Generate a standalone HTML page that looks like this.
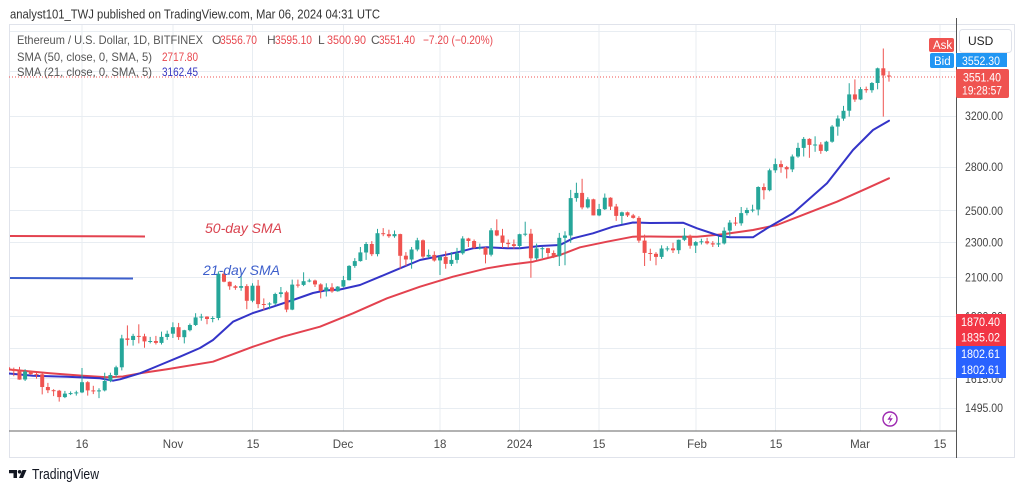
<!DOCTYPE html>
<html>
<head>
<meta charset="utf-8">
<style>
html,body{margin:0;padding:0;background:#fff;}
svg{display:block;font-family:"Liberation Sans",Arial,sans-serif;}
</style>
</head>
<body>
<svg width="1024" height="491" viewBox="0 0 1024 491">
<rect x="0" y="0" width="1024" height="491" fill="#fff"/>
<defs><clipPath id="cp"><rect x="9" y="24" width="947" height="407"/></clipPath></defs>

<!-- header -->
<text x="10" y="18.5" font-size="13" fill="#333" textLength="370" lengthAdjust="spacingAndGlyphs">analyst101_TWJ published on TradingView.com, Mar 06, 2024 04:31 UTC</text>

<!-- grid -->
<g stroke="#e8edf2" stroke-width="1">
<line x1="9" x2="956" y1="31.5" y2="31.5"/>
<line x1="9" x2="956" y1="71.5" y2="71.5"/>
<line x1="9" x2="956" y1="116.5" y2="116.5"/>
<line x1="9" x2="956" y1="167.5" y2="167.5"/>
<line x1="9" x2="956" y1="210.5" y2="210.5"/>
<line x1="9" x2="956" y1="242.5" y2="242.5"/>
<line x1="9" x2="956" y1="277.5" y2="277.5"/>
<line x1="9" x2="956" y1="316.5" y2="316.5"/>
<line x1="9" x2="956" y1="348.5" y2="348.5"/>
<line x1="9" x2="956" y1="378.5" y2="378.5"/>
<line x1="9" x2="956" y1="408.5" y2="408.5"/>
<line x1="82" x2="82" y1="24" y2="431"/>
<line x1="173" x2="173" y1="24" y2="431"/>
<line x1="252.5" x2="252.5" y1="24" y2="431"/>
<line x1="343.5" x2="343.5" y1="24" y2="431"/>
<line x1="440" x2="440" y1="24" y2="431"/>
<line x1="519.5" x2="519.5" y1="24" y2="431"/>
<line x1="599" x2="599" y1="24" y2="431"/>
<line x1="696" x2="696" y1="24" y2="431"/>
<line x1="775.5" x2="775.5" y1="24" y2="431"/>
<line x1="860.5" x2="860.5" y1="24" y2="431"/>
<line x1="940" x2="940" y1="24" y2="431"/>
</g>

<!-- frame -->
<g stroke="#e0e3eb" stroke-width="1" fill="none">
<rect x="9.5" y="24.5" width="1005" height="433"/>
</g>
<line x1="956.5" x2="956.5" y1="18" y2="458" stroke="#555" stroke-width="1"/>
<line x1="9" x2="956" y1="431" y2="431" stroke="#666" stroke-width="1"/>

<!-- legend -->
<g font-size="12" fill="#555">
<text x="17" y="44" textLength="186" lengthAdjust="spacingAndGlyphs">Ethereum / U.S. Dollar, 1D, BITFINEX</text>
<text x="212" y="44">O</text>
<text x="220" y="44" fill="#e8484f" textLength="37" lengthAdjust="spacingAndGlyphs">3556.70</text>
<text x="267" y="44">H</text>
<text x="275" y="44" fill="#e8484f" textLength="37" lengthAdjust="spacingAndGlyphs">3595.10</text>
<text x="318" y="44">L</text>
<text x="327" y="44" fill="#e8484f" textLength="39" lengthAdjust="spacingAndGlyphs">3500.90</text>
<text x="371" y="44">C</text>
<text x="379" y="44" fill="#e8484f" textLength="36" lengthAdjust="spacingAndGlyphs">3551.40</text>
<text x="423" y="44" fill="#e8484f" textLength="70" lengthAdjust="spacingAndGlyphs">−7.20 (−0.20%)</text>
<text x="17" y="61" textLength="135" lengthAdjust="spacingAndGlyphs">SMA (50, close, 0, SMA, 5)</text>
<text x="162" y="61" fill="#e8484f" textLength="36" lengthAdjust="spacingAndGlyphs">2717.80</text>
<text x="17" y="76" textLength="135" lengthAdjust="spacingAndGlyphs">SMA (21, close, 0, SMA, 5)</text>
<text x="162" y="76" fill="#3535c0" textLength="36" lengthAdjust="spacingAndGlyphs">3162.45</text>
</g>

<!-- price line -->
<line x1="9" x2="956" y1="77" y2="77" stroke="#ef5350" stroke-width="1" stroke-dasharray="1,2"/>

<!-- SMA lines -->
<g clip-path="url(#cp)" fill="none" stroke-width="2" stroke-linejoin="round" stroke-linecap="round">
<polyline stroke="#e3424f" points="9,369.5 50,373.3 83,375.7 107,377.3 123,376.5 140,373.3 167,369.3 213,361.7 253,346.7 283,336.7 320,326.7 353,313.3 387,298.3 420,286.7 453,276.7 487,268.3 507,265 533,261.7 560,255 580,247.3 607,241.7 633,236.7 650,236.5 670,236.7 697,236.7 723,234.3 753,230 777,225 807,213.3 837,201.7 867,188.3 889,178.3"/>
<polyline stroke="#3434c8" points="9,373.5 33,375.7 67,376.7 100,378.3 113,380.7 120,379.3 140,373.3 160,365 180,356.7 200,348 213,340 233,321.7 253,313 273,306.7 293,300 313,293 325,290.5 340,289.5 360,285 380,276.7 400,268.3 420,260 440,256 460,251.7 473,248.3 487,247.3 507,248.3 520,248.3 540,246 560,245 573,238.3 593,233.3 613,226.7 633,222.5 650,223 683,222.7 697,228.3 720,236 730,237.3 753,237.3 767,228.3 793,213.3 827,183.3 853,150 873,130 889,120.7"/>
</g>

<!-- candles -->
<g id="cd" clip-path="url(#cp)"></g>

<!-- annotations -->
<line x1="10" x2="145" y1="236" y2="236.5" stroke="#e3424f" stroke-width="2"/>
<line x1="10" x2="133" y1="278" y2="278.5" stroke="#3d5fcc" stroke-width="2"/>
<text x="205" y="233" font-size="14" font-style="italic" fill="#d9434f" textLength="77" lengthAdjust="spacingAndGlyphs">50-day SMA</text>
<text x="203" y="275" font-size="14" font-style="italic" fill="#3d5fcc" textLength="77" lengthAdjust="spacingAndGlyphs">21-day SMA</text>

<!-- lightning icon -->
<circle cx="890" cy="419" r="7" fill="#fff" stroke="#9c27b0" stroke-width="1.4"/>
<path d="M891.8 413.6 L887.4 419.8 L890.2 419.8 L888.4 424.4 L892.8 418.2 L890 418.2 Z" fill="#9c27b0"/>

<!-- right axis labels -->
<g font-size="11.5" fill="#444">
<text x="965" y="120" textLength="38" lengthAdjust="spacingAndGlyphs">3200.00</text>
<text x="965" y="171" textLength="38" lengthAdjust="spacingAndGlyphs">2800.00</text>
<text x="965" y="215" textLength="38" lengthAdjust="spacingAndGlyphs">2500.00</text>
<text x="965" y="246.5" textLength="38" lengthAdjust="spacingAndGlyphs">2300.00</text>
<text x="965" y="281.5" textLength="38" lengthAdjust="spacingAndGlyphs">2100.00</text>
<text x="965" y="320.5" textLength="38" lengthAdjust="spacingAndGlyphs">1900.00</text>
<text x="965" y="383" textLength="38" lengthAdjust="spacingAndGlyphs">1615.00</text>
<text x="965" y="412" textLength="38" lengthAdjust="spacingAndGlyphs">1495.00</text>
</g>

<!-- lower price boxes -->
<rect x="956" y="314" width="50" height="32" fill="#f23645"/>
<rect x="956" y="346" width="50" height="32" fill="#2962ff"/>
<g font-size="11.5" fill="#fff">
<text x="961" y="326" textLength="39" lengthAdjust="spacingAndGlyphs">1870.40</text>
<text x="961" y="341.5" textLength="39" lengthAdjust="spacingAndGlyphs">1835.02</text>
<text x="961" y="358" textLength="39" lengthAdjust="spacingAndGlyphs">1802.61</text>
<text x="961" y="374" textLength="39" lengthAdjust="spacingAndGlyphs">1802.61</text>
</g>

<!-- top price boxes -->
<rect x="929" y="38" width="25" height="14" rx="2" fill="#ef5350"/>
<text x="933" y="49" font-size="11.5" fill="#fff">Ask</text>
<rect x="930" y="53" width="24" height="15" rx="2" fill="#2196f3"/>
<text x="934" y="65" font-size="11.5" fill="#fff">Bid</text>
<rect x="956" y="53" width="51" height="14" fill="#2196f3"/>
<text x="962" y="65" font-size="11.5" fill="#fff" textLength="38" lengthAdjust="spacingAndGlyphs">3552.30</text>
<rect x="959.5" y="29.5" width="52" height="23" rx="3" fill="#fff" stroke="#e0e3eb"/>
<text x="968" y="45" font-size="12" fill="#222">USD</text>
<rect x="956" y="69" width="53" height="29" rx="2" fill="#ef5350"/>
<text x="963" y="81.5" font-size="11.5" fill="#fff" textLength="38" lengthAdjust="spacingAndGlyphs">3551.40</text>
<text x="962" y="94.5" font-size="11.5" fill="#fff" textLength="40" lengthAdjust="spacingAndGlyphs">19:28:57</text>

<!-- x-axis labels -->
<g font-size="11.5" fill="#4a4a4a" text-anchor="middle">
<text x="82" y="448">16</text>
<text x="173" y="448">Nov</text>
<text x="253" y="448">15</text>
<text x="343" y="448">Dec</text>
<text x="440" y="448">18</text>
<text x="519.5" y="448">2024</text>
<text x="599" y="448">15</text>
<text x="697" y="448">Feb</text>
<text x="776" y="448">15</text>
<text x="860" y="448">Mar</text>
<text x="940" y="448">15</text>
</g>

<!-- TradingView logo -->
<path d="M9 470 H17 V478 H13.5 V473.2 H9 Z" fill="#131722"/>
<circle cx="19.6" cy="471.8" r="1.8" fill="#131722"/>
<path d="M22.5 470 H26.5 L23 478 H19 Z" fill="#131722"/>
<text x="32" y="479" font-size="15" fill="#131722" textLength="67" lengthAdjust="spacingAndGlyphs">TradingView</text>
</svg>

<script>
(function(){
var D=[
[1663,1675,1638,1656],[1656,1662,1625,1647],[1647,1665,1610,1611],[1611,1655,1605,1645],[1645,1650,1630,1634],[1634,1640,1615,1633],[1633,1637,1550,1580],[1580,1597,1555,1567],[1567,1571,1543,1565],[1565,1568,1521,1539],[1539,1564,1535,1553],[1553,1562,1547,1555],[1555,1565,1545,1558],[1558,1660,1555,1600],[1600,1604,1545,1566],[1566,1585,1551,1565],[1565,1575,1535,1566],[1566,1640,1562,1605],[1605,1640,1600,1630],[1630,1670,1620,1663],[1663,1810,1650,1793],[1793,1855,1760,1786],[1786,1815,1760,1805],[1805,1860,1770,1803],[1803,1815,1750,1779],[1779,1800,1770,1781],[1781,1805,1765,1772],[1772,1825,1765,1800],[1800,1830,1786,1815],
[1815,1870,1795,1846],[1846,1867,1786,1799],[1799,1834,1770,1832],[1832,1864,1826,1857],[1857,1915,1852,1894],[1894,1912,1878,1898],[1898,1900,1860,1886],[1886,1900,1870,1891],[1891,2135,1880,2122],[2122,2136,2075,2078],[2078,2080,2035,2054],[2054,2060,2035,2046],[2046,2120,2030,2055],[2055,2065,1935,1978],[1978,2070,1970,2057],[2057,2088,1940,1961],[1961,1990,1930,1960],[1960,1970,1935,1964],[1964,2020,1955,2013],[2013,2050,1995,2022],[2022,2030,1920,1933],[1933,2090,1930,2063],[2063,2090,2047,2061],[2061,2130,2055,2081],[2081,2095,2075,2085],[2085,2090,2050,2064],[2064,2070,1990,2029],[2029,2070,2000,2048],[2048,2070,2020,2027],[2027,2055,2025,2052],
[2052,2110,2048,2087],[2087,2170,2085,2166],[2166,2210,2155,2193],[2193,2275,2190,2243],[2243,2305,2200,2293],[2293,2310,2222,2233],[2233,2385,2220,2358],[2358,2390,2340,2352],[2352,2380,2330,2340],[2340,2375,2330,2353],[2353,2355,2150,2224],[2224,2245,2165,2202],[2202,2275,2150,2260],[2260,2330,2250,2315],[2315,2320,2210,2219],[2219,2260,2210,2229],[2229,2250,2190,2197],[2197,2225,2115,2217],[2217,2250,2150,2177],[2177,2245,2165,2200],[2200,2270,2180,2238],[2238,2340,2230,2326],[2326,2330,2275,2311],[2311,2320,2265,2271],[2271,2295,2260,2271],[2271,2275,2180,2230],[2230,2390,2220,2376],[2376,2445,2340,2344],[2344,2385,2270,2300],[2300,2320,2270,2292],[2292,2320,2265,2281],
[2281,2355,2265,2352],[2352,2430,2340,2355],[2355,2385,2100,2209],[2209,2295,2200,2267],[2267,2275,2210,2268],[2268,2270,2215,2240],[2240,2255,2210,2221],[2221,2360,2165,2330],[2330,2370,2170,2344],[2344,2640,2300,2584],[2584,2690,2560,2619],[2619,2717,2510,2522],[2522,2590,2515,2576],[2576,2580,2470,2470],[2470,2545,2465,2511],[2511,2615,2505,2587],[2587,2590,2505,2528],[2528,2545,2435,2467],[2467,2495,2415,2490],[2490,2495,2460,2470],[2470,2480,2450,2454],[2454,2465,2300,2313],[2313,2350,2165,2240],[2240,2265,2195,2235],[2235,2245,2170,2217],[2217,2285,2205,2266],[2266,2280,2250,2267],[2267,2300,2240,2256],[2256,2320,2235,2318],[2318,2390,2310,2343],[2343,2350,2265,2283],
[2283,2310,2240,2304],[2304,2325,2290,2309],[2309,2330,2290,2297],[2297,2310,2275,2290],[2290,2340,2275,2297],[2297,2395,2290,2374],[2374,2440,2340,2424],[2424,2460,2405,2420],[2420,2525,2405,2485],[2485,2520,2470,2505],[2505,2540,2490,2508],[2508,2665,2470,2660],[2660,2685,2575,2638],[2638,2790,2630,2778],[2778,2865,2760,2823],[2823,2850,2760,2801],[2801,2810,2720,2785],[2785,2895,2765,2880],[2880,2985,2870,2945],[2945,3030,2880,3015],[3015,3020,2870,2968],[2968,3035,2915,2971],[2971,2990,2900,2922],[2922,3000,2915,2993],[2993,3125,2985,3113],[3113,3205,3040,3179],[3179,3285,3160,3244],[3244,3485,3195,3385],[3385,3520,3320,3340],
[3340,3450,3335,3432],[3432,3455,3400,3422],[3422,3495,3400,3487],[3487,3630,3430,3623],[3623,3815,3195,3556],[3556,3595,3500,3551]
];
function Y(p){return 116-384*Math.log(p/3200);}
var s='';
for(var i=0;i<D.length;i++){
var c=D[i];var x=172.9+(i-29)*5.683;
var col=c[3]>=c[0]?'#26a69a':'#ef5350';
var yo=Y(c[0]),yc=Y(c[3]),yh=Y(c[1]),yl=Y(c[2]);
var t=Math.min(yo,yc),h=Math.max(1,Math.abs(yo-yc));
s+='<line x1="'+x.toFixed(1)+'" x2="'+x.toFixed(1)+'" y1="'+yh.toFixed(1)+'" y2="'+yl.toFixed(1)+'" stroke="'+col+'" stroke-width="1"/>';
s+='<rect x="'+(x-2).toFixed(1)+'" y="'+t.toFixed(1)+'" width="4" height="'+h.toFixed(1)+'" fill="'+col+'"/>';
}
document.getElementById('cd').innerHTML=s;
})();
</script>
</body>
</html>
